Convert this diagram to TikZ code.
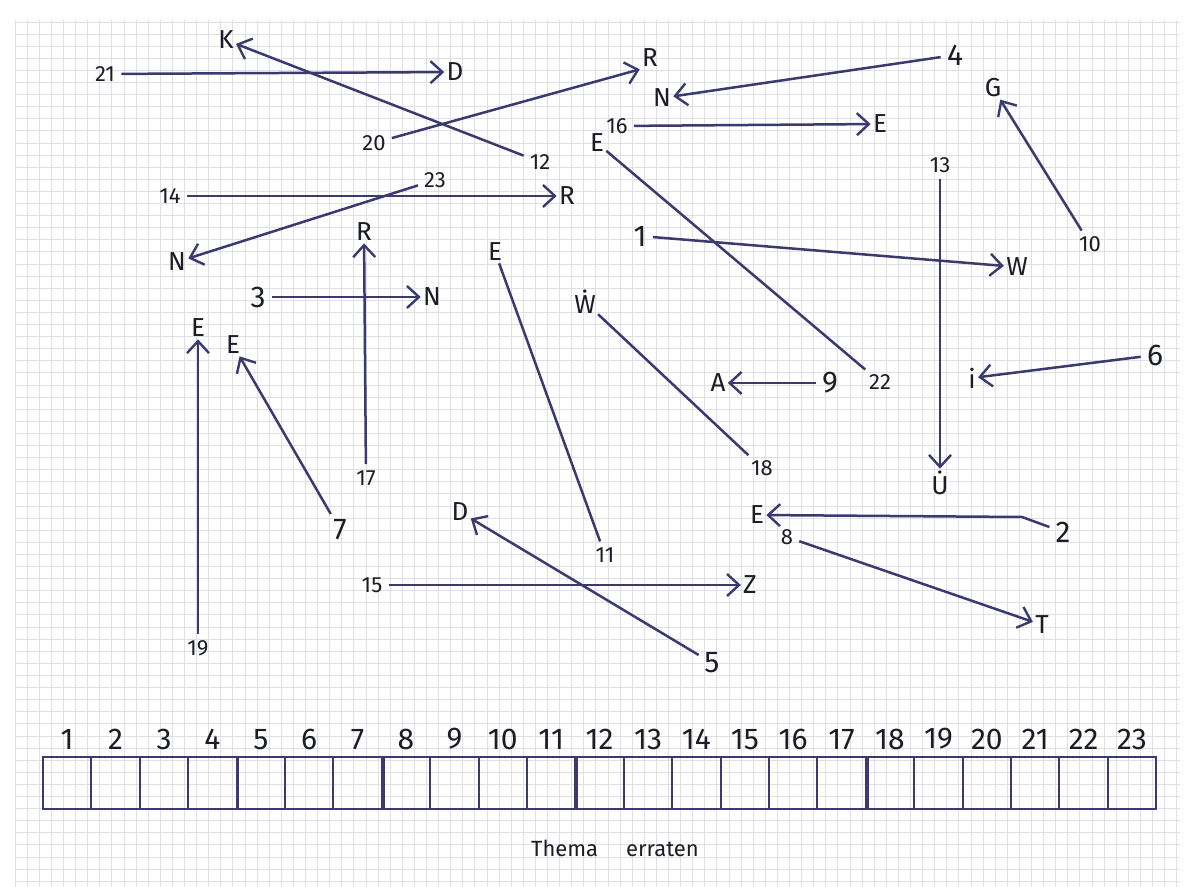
\documentclass[tikz,border=0pt]{standalone}
\usepackage{fontspec}
\setmainfont{Fira Sans}
\usetikzlibrary{arrows.meta}

\definecolor{ink}{RGB}{58,58,112}
\definecolor{pen}{RGB}{28,28,36}
\definecolor{gridline}{RGB}{222,224,230}

\begin{document}
\begin{tikzpicture}[x=0.5pt, y=-0.5pt,
  num/.style={text=pen, font=\fontsize{11}{11}\selectfont, inner sep=1pt},
  bignum/.style={text=pen, font=\fontsize{15}{15}\selectfont, inner sep=1pt},
  letter/.style={text=pen, font=\fontsize{13}{13}\selectfont, inner sep=1pt},
  link/.style={ink, line width=1.25pt, shorten <=2pt},
  arr/.style={link, -{Straight Barb[length=6pt, width=11pt, line width=1.2pt]}},
  cell/.style={draw=ink, line width=1pt, minimum width=24.2pt, minimum height=26pt, inner sep=0pt}]
  % paper
  \useasboundingbox (0,0) rectangle (1190,887);
  \fill[white] (0,0) rectangle (1190,887);
  \foreach \gx in {15,27.1,...,1180}
    \draw[gridline, line width=0.4pt] (\gx,20) -- (\gx,887);
  \foreach \gy in {22,34.1,...,887}
    \draw[gridline, line width=0.4pt] (15,\gy) -- (1180,\gy);

  % numbers
  \node[bignum] (n1)  at (640,236) {1};
  \node[bignum] (n2)  at (1063,532) {2};
  \node[bignum] (n3)  at (258,297) {3};
  \node[bignum] (n4)  at (955,55)  {4};
  \node[bignum] (n5)  at (712,663) {5};
  \node[bignum] (n6)  at (1155,355) {6};
  \node[bignum] (n7)  at (340,530) {7};
  \node[num]    (n8)  at (787,537) {8};
  \node[bignum] (n9)  at (830,383) {9};
  \node[num]    (n10) at (1090,244) {10};
  \node[num]    (n11) at (605,555) {11};
  \node[num]    (n12) at (540,162) {12};
  \node[num]    (n13) at (940,165) {13};
  \node[num]    (n14) at (170,196) {14};
  \node[num]    (n15) at (372,585) {15};
  \node[num]    (n16) at (617,126) {16};
  \node[num]    (n17) at (366,478) {17};
  \node[num]    (n18) at (762,468) {18};
  \node[num]    (n19) at (198,648) {19};
  \node[num]    (n20) at (374,143) {20};
  \node[num]    (n21) at (105,74)  {21};
  \node[num]    (n22) at (880,382) {22};
  \node[num]    (n23) at (435,180) {23};

  % letters
  \node[letter] (l1)  at (1017,267) {W};
  \node[letter] (l2)  at (757,515) {E};
  \node[letter] (l3)  at (432,297) {N};
  \node[letter] (l4)  at (662,98)  {N};
  \node[letter] (l5)  at (460,512) {D};
  \node[letter] (l6)  at (972,378) {i};
  \node[letter] (l7)  at (233,345) {E};
  \node[letter] (l8)  at (1042,625) {T};
  \node[letter] (l9)  at (718,383) {A};
  \node[letter] (l10) at (993,88)  {G};
  \node[letter] (l11) at (495,252) {E};
  \node[letter] (l12) at (226,40)  {K};
  \node[letter] (l13) at (940,483) {\.{U}};
  \node[letter] (l14) at (567,196) {R};
  \node[letter] (l15) at (750,585) {Z};
  \node[letter] (l16) at (880,124) {E};
  \node[letter] (l17) at (364,232) {R};
  \node[letter] (l18) at (585,302) {\.{W}};
  \node[letter] (l19) at (198,328) {E};
  \node[letter] (l20) at (650,58)  {R};
  \node[letter] (l21) at (455,72)  {D};
  \node[letter] (l22) at (597,143) {E};
  \node[letter] (l23) at (177,262) {N};

  % connectors
  \coordinate (k2) at (1022,517);
  \draw[arr] (n1) -- (l1);
  \draw[arr] (n2) -- (k2) -- (l2);
  \draw[arr] (n3) -- (l3);
  \draw[arr] (n4) -- (l4);
  \draw[arr] (n5) -- (l5);
  \draw[arr] (n6) -- (l6);
  \draw[arr] (n7) -- (l7);
  \draw[arr] (n8) -- (l8);
  \draw[arr] (n9) -- (l9);
  \draw[arr] (n10) -- (l10);
  \draw[link] (n11) -- (l11);
  \draw[arr] (n12) -- (l12);
  \draw[arr] (n13) -- (l13);
  \draw[arr] (n14) -- (l14);
  \draw[arr] (n15) -- (l15);
  \draw[arr] (n16) -- (l16);
  \draw[arr] (n17) -- (l17);
  \draw[link] (n18) -- (l18);
  \draw[arr] (n19) -- (l19);
  \draw[arr] (n20) -- (l20.south west);
  \draw[arr] (n21) -- (l21);
  \draw[link] (n22) -- (l22);
  \draw[arr] (n23) -- (l23);

  % answer row
  \foreach \i in {1,...,23} {
    \node[cell] (b\i) at ({43+48.4*(\i-0.5)},783) {};
    \node[bignum, anchor=south] (h\i) at ([yshift=2pt]b\i.north) {\i};
  }
  \foreach \i in {4,7,11,17}
    \draw[ink, line width=1.8pt] (b\i.north east) -- (b\i.south east);
  \node[text=pen, font=\fontsize{11}{11}\selectfont] (theme) at (615,848) {Thema\hspace{14pt}erraten};
\end{tikzpicture}
\end{document}
